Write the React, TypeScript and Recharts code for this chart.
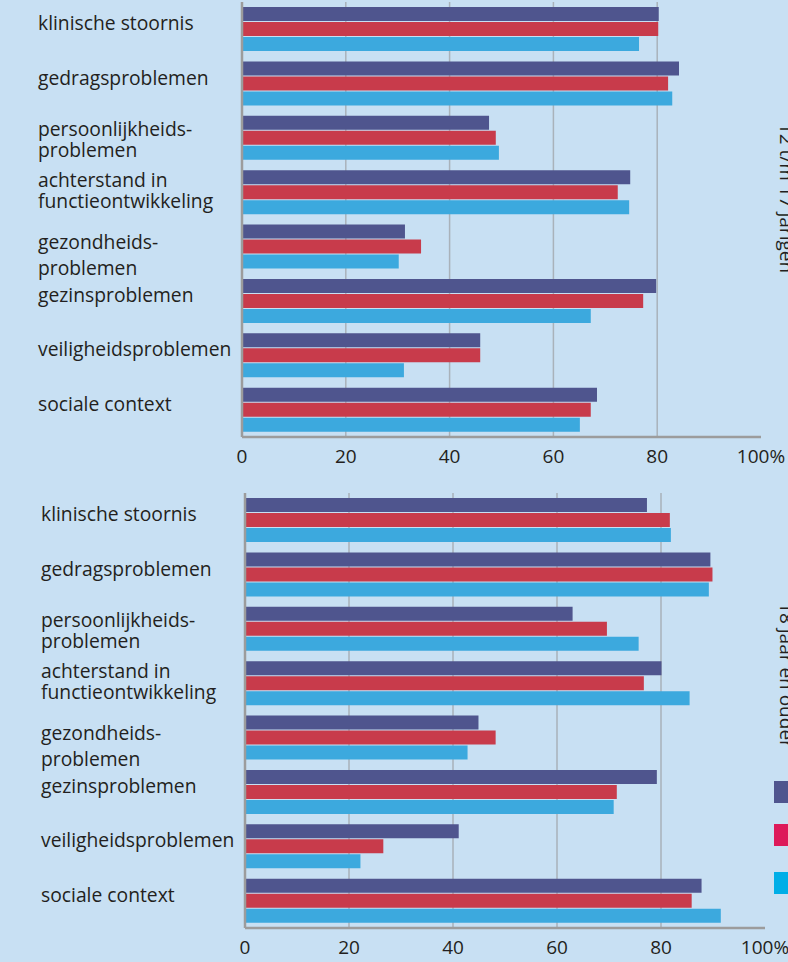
import { BarChart, Bar, XAxis, YAxis, CartesianGrid } from "recharts"

// ---- data ----
const categories = [
  "klinische stoornis",
  "gedragsproblemen",
  "persoonlijkheids-\nproblemen",
  "achterstand in\nfunctieontwikkeling",
  "gezondheids-\nproblemen",
  "gezinsproblemen",
  "veiligheidsproblemen",
  "sociale context",
]

const xTicks = [0, 20, 40, 60, 80, 100]
const gridValues = [20, 40, 60, 80]

// 12 t/m 17 jarigen
const youthPurple = [80.3, 84.2, 47.6, 74.8, 31.4, 79.8, 45.9, 68.4]
const youthRed = [80.2, 82.1, 48.9, 72.4, 34.5, 77.3, 45.9, 67.2]
const youthBlue = [76.5, 82.9, 49.5, 74.6, 30.2, 67.2, 31.2, 65.1]

// 18 jaar en ouder
const adultPurple = [77.3, 89.5, 63.0, 80.1, 44.9, 79.2, 41.1, 87.8]
const adultRed = [81.7, 89.9, 69.6, 76.7, 48.2, 71.5, 26.6, 85.9]
const adultBlue = [81.9, 89.2, 75.7, 85.5, 42.8, 70.9, 22.2, 91.5]

// ---- styles ----
const BG = "#c8e0f3"
const PURPLE = "#4f558e"
const RED = "#c83b4b"
const BLUE = "#3ca9de"
const AXIS = "#9c9c9c"
const GRID = "#a9b2ba"
const TEXT = "#231f20"
const FONT = "'Open Sans', sans-serif"

const legendColors = ["#4f558e", "#dd1a5a", "#00aee7"]

// baseline offsets (px) of each label line relative to the band centre
const lineOffsets: Record<number, number[]> = {
  1: [1],
  2: [-2, 19],
}
const specialOffsets: Record<string, number[]> = {
  "achterstand in\nfunctieontwikkeling": [-5, 16],
  "gezondheids-\nproblemen": [2, 28],
}

function buildRows(a: number[], b: number[], c: number[]) {
  return categories.map((cat, i) => ({ cat, a: a[i], b: b[i], c: c[i] }))
}

function CategoryTick(props: any) {
  const { y, payload, labelX } = props
  const value: string = payload.value
  const lines = value.split("\n")
  const offs = specialOffsets[value] || lineOffsets[lines.length]
  return (
    <g>
      {lines.map((ln, i) => (
        <text
          key={i}
          x={labelX}
          y={y + offs[i]}
          fill={TEXT}
          fontSize={19.3}
          fontFamily={FONT}
          textAnchor="start"
        >
          {ln}
        </text>
      ))}
    </g>
  )
}

function ValueTick(props: any) {
  const { x, y, payload } = props
  return (
    <text x={x} y={y + 26} fill={TEXT} fontSize={19} fontFamily={FONT} textAnchor="middle">
      {payload.value === 100 ? "100%" : payload.value}
    </text>
  )
}

interface PanelProps {
  rows: { cat: string; a: number; b: number; c: number }[]
  title: string
  titleY: number
  labelX: number
  yAxisWidth: number
  top: number
  right: number
  axisHeight: number
  legend?: boolean
}

function Panel({ rows, title, titleY, labelX, yAxisWidth, top, right, axisHeight, legend }: PanelProps) {
  return (
    <div style={{ position: "relative", width: 788, height: 481 }}>
      <BarChart
        width={788}
        height={481}
        data={rows}
        layout="vertical"
        margin={{ top, right, bottom: 0, left: 0 }}
        barSize={14}
        barGap={1}
        barCategoryGap={0}
      >
        <CartesianGrid
          horizontal={false}
          vertical
          verticalValues={gridValues}
          stroke={GRID}
          strokeWidth={1.5}
        />
        <XAxis
          type="number"
          domain={[0, 100]}
          ticks={xTicks}
          interval={0}
          tickLine={false}
          tickSize={0}
          tickMargin={0}
          axisLine={{ stroke: AXIS, strokeWidth: 2.5 }}
          tick={<ValueTick />}
          height={axisHeight}
        />
        <YAxis
          type="category"
          dataKey="cat"
          width={yAxisWidth}
          tickLine={false}
          tickSize={0}
          axisLine={{ stroke: AXIS, strokeWidth: 2.5 }}
          tick={<CategoryTick labelX={labelX} />}
          interval={0}
        />
        <Bar dataKey="a" fill={PURPLE} isAnimationActive={false} />
        <Bar dataKey="b" fill={RED} isAnimationActive={false} />
        <Bar dataKey="c" fill={BLUE} isAnimationActive={false} />
      </BarChart>
      <svg
        width={788}
        height={481}
        style={{ position: "absolute", left: 0, top: 0, pointerEvents: "none" }}
      >
        <text
          x={780}
          y={titleY}
          fill={TEXT}
          fontSize={19}
          fontFamily={FONT}
          textAnchor="middle"
          transform={`rotate(90, 780, ${titleY})`}
        >
          {title}
        </text>
        {legend &&
          legendColors.map((c, i) => (
            <rect key={c} x={774} y={300 + [0, 43, 91][i]} width={30} height={22} fill={c} />
          ))}
      </svg>
    </div>
  )
}

export default function App() {
  return (
    <div
      style={{
        position: "absolute",
        left: 0,
        top: 0,
        width: 788,
        height: 962,
        background: BG,
        overflow: "hidden",
      }}
    >
      <Panel
        rows={buildRows(youthPurple, youthRed, youthBlue)}
        title="12 t/m 17 jarigen"
        titleY={198}
        labelX={38}
        yAxisWidth={242}
        top={2}
        right={27}
        axisHeight={44}
      />
      <Panel
        rows={buildRows(adultPurple, adultRed, adultBlue)}
        title="18 jaar en ouder"
        titleY={194}
        labelX={41}
        yAxisWidth={245}
        top={12}
        right={23}
        axisHeight={34}
        legend
      />
    </div>
  )
}
